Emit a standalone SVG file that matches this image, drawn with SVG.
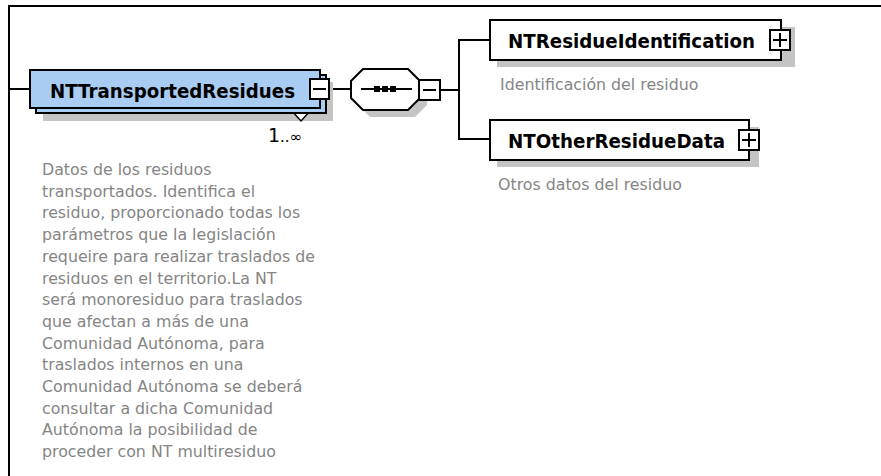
<svg xmlns="http://www.w3.org/2000/svg" width="881" height="476" viewBox="0 0 881 476">
<style>
.frame{fill:none;stroke:#000;stroke-width:2}
.conn{fill:none;stroke:#000;stroke-width:2}
.shadow{fill:#c4c4c4}
.box{fill:#fff;stroke:#000;stroke-width:2}
.main{fill:#a8ccf2;stroke:#000;stroke-width:2}
.toggle{fill:#fff;stroke:#000;stroke-width:2}
.sign{stroke:#000;stroke-width:2}
.name{font-family:"DejaVu Sans",sans-serif;font-weight:bold;font-size:20px;fill:#000}
.desc{font-family:"DejaVu Sans",sans-serif;font-size:15.8px;fill:#858585}
.card{font-family:"DejaVu Sans",sans-serif;fill:#000}
</style>
<rect width="881" height="476" fill="#fff"/>
<path class="frame" d="M9,476 V6 H881"/>
<g id="connectors">
<line class="conn" x1="9" y1="89" x2="30" y2="89"/>
<line class="conn" x1="329" y1="89" x2="351" y2="89"/>
<line class="conn" x1="440" y1="90" x2="459" y2="90"/>
<path class="conn" d="M490,40 H459 V139 H490"/>
</g>
<g id="NTTransportedResidues">
<rect class="shadow" x="43" y="82" width="290" height="39"/>
<polygon points="291,110 311,110 301,121" fill="#fff" stroke="#000" stroke-width="1.5"/>
<rect class="main" x="36" y="75" width="290" height="38"/>
<rect class="main" x="30" y="70" width="290" height="38"/>
<text class="name" x="50" y="98" textLength="245" lengthAdjust="spacingAndGlyphs">NTTransportedResidues</text>
<rect class="toggle" x="310" y="79" width="19" height="20"/>
<line class="sign" x1="313" y1="89" x2="326" y2="89"/>
<text class="card" x="268" y="142"><tspan font-size="19">1</tspan><tspan font-size="15">..∞</tspan></text>
<text class="desc">
<tspan x="42" y="175">Datos de los residuos</tspan>
<tspan x="42" y="196.7">transportados. Identifica el</tspan>
<tspan x="42" y="218.4">residuo, proporcionado todas los</tspan>
<tspan x="42" y="240.1">parámetros que la legislación</tspan>
<tspan x="42" y="261.8">requeire para realizar traslados de</tspan>
<tspan x="42" y="283.5">residuos en el territorio.La NT</tspan>
<tspan x="42" y="305.2">será monoresiduo para traslados</tspan>
<tspan x="42" y="326.9">que afectan a más de una</tspan>
<tspan x="42" y="348.6">Comunidad Autónoma, para</tspan>
<tspan x="42" y="370.3">traslados internos en una</tspan>
<tspan x="42" y="392">Comunidad Autónoma se deberá</tspan>
<tspan x="42" y="413.7">consultar a dicha Comunidad</tspan>
<tspan x="42" y="435.4">Autónoma la posibilidad de</tspan>
<tspan x="42" y="457.1">proceder con NT multiresiduo</tspan>
</text>
</g>
<g id="sequence">
<polygon class="shadow" points="370,76 415,76 427,88 427,105 415,117 370,117 358,105 358,88"/>
<polygon class="box" points="363,69 408,69 420,81 420,98 408,110 363,110 351,98 351,81"/>
<line class="sign" x1="361" y1="89" x2="412" y2="89"/>
<rect x="374" y="86" width="6" height="6" fill="#000"/>
<rect x="382" y="86" width="6" height="6" fill="#000"/>
<rect x="390" y="86" width="6" height="6" fill="#000"/>
<rect class="toggle" x="419" y="80" width="21" height="20"/>
<line class="sign" x1="423" y1="90" x2="436" y2="90"/>
</g>
<g id="NTResidueIdentification">
<rect class="shadow" x="497" y="27" width="298" height="40"/>
<rect class="box" x="490" y="20" width="291" height="40"/>
<text class="name" x="508" y="48" textLength="247" lengthAdjust="spacingAndGlyphs">NTResidueIdentification</text>
<rect class="toggle" x="770" y="30" width="20" height="20"/>
<line class="sign" x1="773" y1="40" x2="787" y2="40"/>
<line class="sign" x1="780" y1="33" x2="780" y2="47"/>
<text class="desc" x="500" y="90">Identificación del residuo</text>
</g>
<g id="NTOtherResidueData">
<rect class="shadow" x="497" y="127" width="262" height="40"/>
<rect class="box" x="490" y="120" width="259" height="40"/>
<text class="name" x="508" y="148" textLength="217" lengthAdjust="spacingAndGlyphs">NTOtherResidueData</text>
<rect class="toggle" x="739" y="130" width="20" height="20"/>
<line class="sign" x1="742" y1="140" x2="756" y2="140"/>
<line class="sign" x1="749" y1="133" x2="749" y2="147"/>
<text class="desc" x="498" y="190">Otros datos del residuo</text>
</g>
</svg>
